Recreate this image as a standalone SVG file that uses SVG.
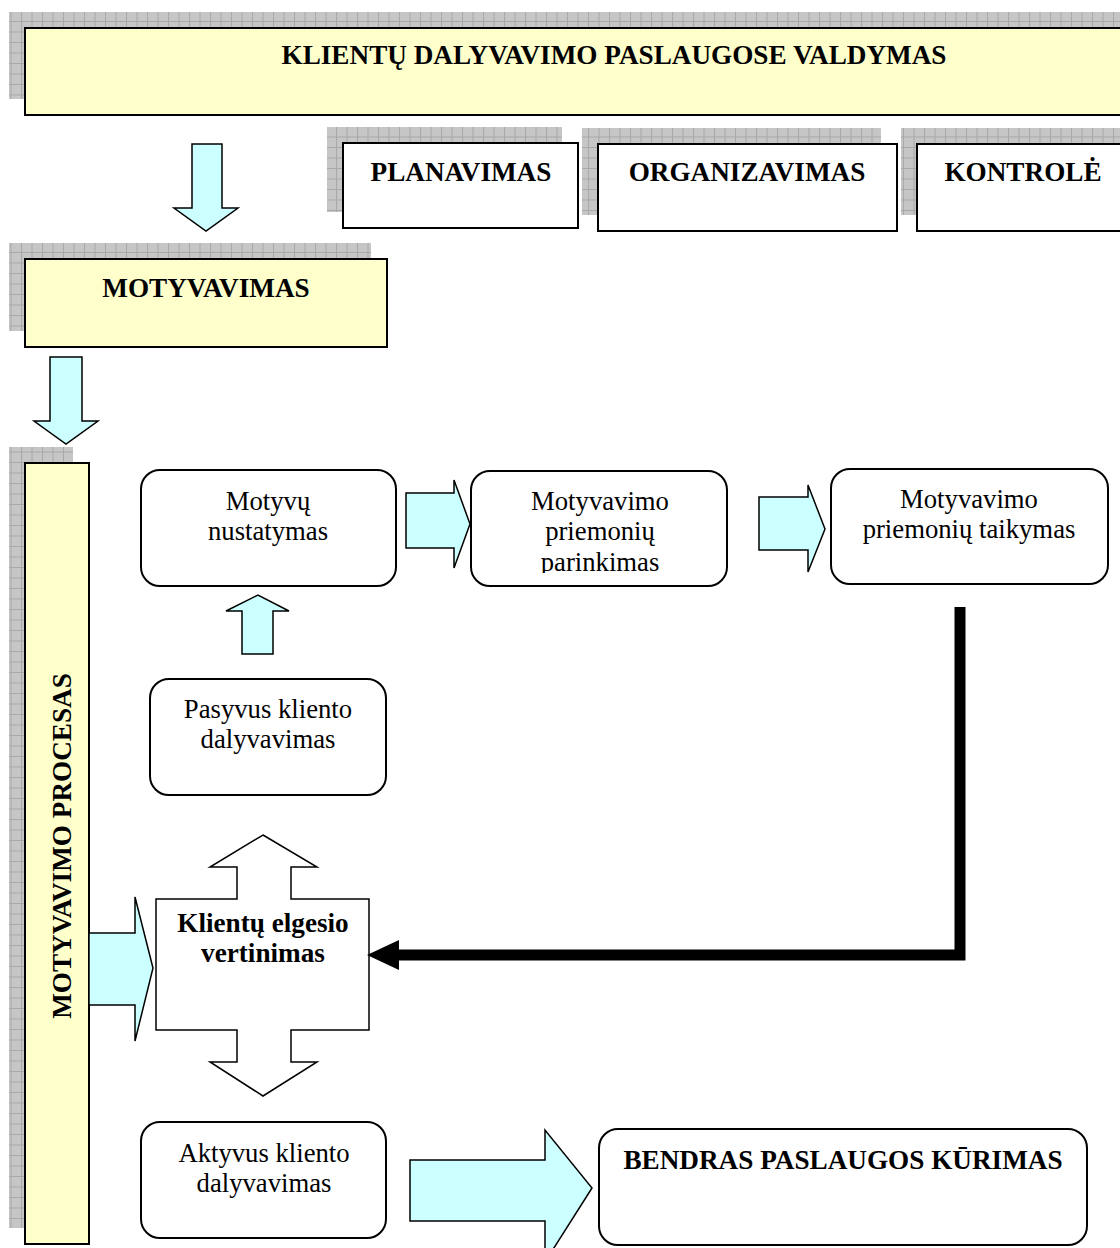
<svg xmlns="http://www.w3.org/2000/svg" width="1120" height="1248" viewBox="0 0 1120 1248">
  <defs>
    <!-- hatched grid used for the drop shadows -->
    <pattern id="grid" patternUnits="userSpaceOnUse" width="10.5" height="10.5">
      <rect width="10.5" height="10.5" fill="#c6c6c6"/>
      <path d="M0 0.5H10.5M0.5 0V10.5" stroke="#a8a8a8" stroke-width="1"/>
    </pattern>
  </defs>
  <style>
    .shadow { fill: url(#grid); }
    .band { fill: #ffffcc; stroke: #000; stroke-width: 2; }
    .box { fill: #fff; stroke: #000; stroke-width: 2; }
    .rbox { fill: #fff; stroke: #000; stroke-width: 2; }
    .blue { fill: #ccffff; stroke: #000; stroke-width: 1.5; stroke-linejoin: miter; }
    .hollow { fill: #fff; stroke: #000; stroke-width: 1.5; }
    .bold { font-family: "Liberation Serif", "Times New Roman", serif; font-weight: bold; font-size: 27.2px; fill: #000; text-anchor: middle; }
    .reg { font-family: "Liberation Serif", "Times New Roman", serif; font-size: 26.7px; fill: #000; text-anchor: middle; }
  </style>
  <rect width="1120" height="1248" fill="#fff"/>

  <!-- management banner -->
  <g id="valdymas">
    <rect class="shadow" x="9" y="12" width="1130" height="87"/>
    <rect class="band" x="25" y="28" width="1130" height="87"/>
    <text class="bold" x="614" y="64">KLIENTŲ DALYVAVIMO PASLAUGOSE VALDYMAS</text>
  </g>

  <g id="planavimas">
    <rect class="shadow" x="327" y="127" width="235" height="85"/>
    <rect class="box" x="343" y="143" width="235" height="85"/>
    <text class="bold" x="461" y="181">PLANAVIMAS</text>
  </g>

  <g id="organizavimas">
    <rect class="shadow" x="582" y="128" width="299" height="87"/>
    <rect class="box" x="598" y="144" width="299" height="87"/>
    <text class="bold" x="747" y="181">ORGANIZAVIMAS</text>
  </g>

  <g id="kontrole">
    <rect class="shadow" x="901" y="128" width="240" height="87"/>
    <rect class="box" x="917" y="144" width="240" height="87"/>
    <text class="bold" x="1023" y="181">KONTROLĖ</text>
  </g>

  <g id="motyvavimas">
    <rect class="shadow" x="9" y="243" width="362" height="88"/>
    <rect class="band" x="25" y="259" width="362" height="88"/>
    <text class="bold" x="206" y="297">MOTYVAVIMAS</text>
  </g>

  <g id="procesas">
    <rect class="shadow" x="9" y="447" width="64" height="781"/>
    <rect class="band" x="25" y="463" width="64" height="781"/>
    <text class="bold" transform="translate(71 846) rotate(-90)" x="0" y="0">MOTYVAVIMO PROCESAS</text>
  </g>

  <g id="motyvu-nustatymas">
    <rect class="rbox" x="141" y="470" width="255" height="116" rx="19"/>
    <text class="reg" x="268" y="510">Motyvų</text>
    <text class="reg" x="268" y="540">nustatymas</text>
  </g>

  <g id="priemoniu-parinkimas">
    <clipPath id="clipParinkimas"><rect x="471" y="471" width="256" height="102"/></clipPath>
    <rect class="rbox" x="471" y="471" width="256" height="115" rx="19"/>
    <g clip-path="url(#clipParinkimas)">
      <text class="reg" x="600" y="510">Motyvavimo</text>
      <text class="reg" x="600" y="540">priemonių</text>
      <text class="reg" x="600" y="571">parinkimas</text>
    </g>
  </g>

  <g id="priemoniu-taikymas">
    <rect class="rbox" x="831" y="469" width="277" height="115" rx="19"/>
    <text class="reg" x="969" y="508">Motyvavimo</text>
    <text class="reg" x="969" y="538">priemonių taikymas</text>
  </g>

  <g id="pasyvus">
    <rect class="rbox" x="150" y="679" width="236" height="116" rx="19"/>
    <text class="reg" x="268" y="718">Pasyvus kliento</text>
    <text class="reg" x="268" y="748">dalyvavimas</text>
  </g>

  <g id="vertinimas">
    <path class="hollow" d="M263 835L317 867H291V899H369V1030H291V1062H317L263 1096L210 1062H237V1030H156V899H237V867H210Z"/>
    <text class="bold" x="263" y="932">Klientų elgesio</text>
    <text class="bold" x="263" y="962">vertinimas</text>
  </g>

  <g id="aktyvus">
    <rect class="rbox" x="141" y="1122" width="245" height="116" rx="19"/>
    <text class="reg" x="264" y="1162">Aktyvus kliento</text>
    <text class="reg" x="264" y="1192">dalyvavimas</text>
  </g>

  <g id="bendras-kurimas">
    <rect class="rbox" x="599" y="1129" width="488" height="116" rx="19"/>
    <text class="bold" x="843" y="1169">BENDRAS PASLAUGOS KŪRIMAS</text>
  </g>

  <g id="connectors">
    <!-- block arrows -->
    <path class="blue" d="M192 144H222V208H238L206 231L174 208H192Z"/>
    <path class="blue" d="M50 357H82V421H98L66 444L34 421H50Z"/>
    <path class="blue" d="M406 493H454V480L470 524L454 568V548H406Z"/>
    <path class="blue" d="M759 497H808V485L825 529L808 572V550H759Z"/>
    <path class="blue" d="M242 654V611H226L258 595L289 611H273V654Z"/>
    <path class="blue" d="M89 933H135V897L153 968L135 1041V1005H89Z"/>
    <path class="blue" d="M410 1160H545V1130L592 1188L545 1262V1221H410Z"/>
    <!-- feedback line -->
    <path d="M960 607V955H398" fill="none" stroke="#000" stroke-width="11"/>
    <path d="M367 955L399 940V970Z" fill="#000"/>
  </g>
</svg>
